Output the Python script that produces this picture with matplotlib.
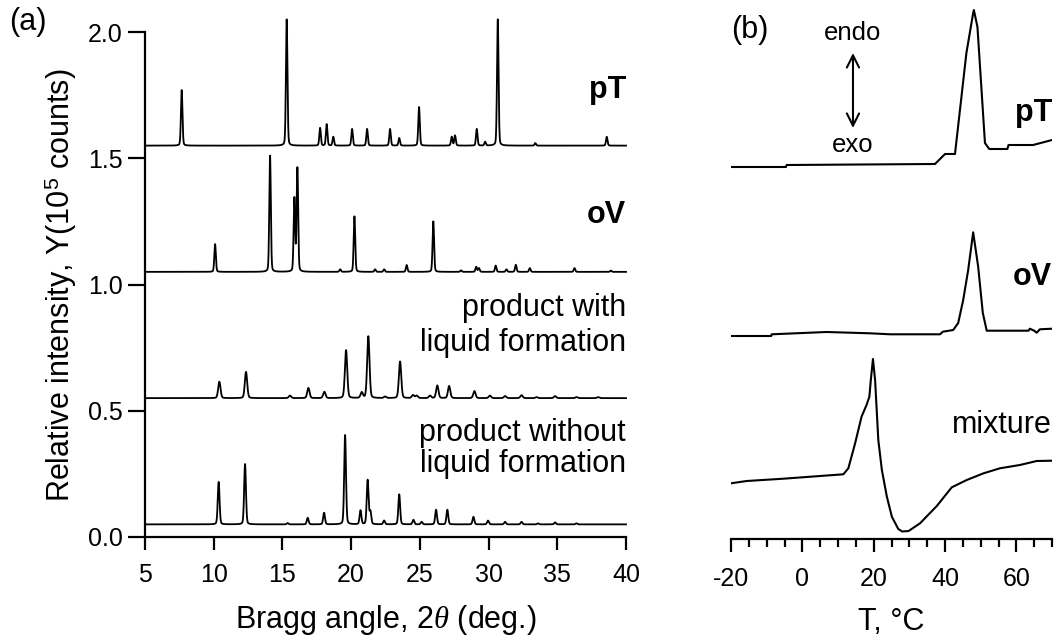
import matplotlib.pyplot as plt
import numpy as np

plt.rcParams['font.family'] = ['Liberation Sans', 'DejaVu Sans']
plt.rcParams['mathtext.fontset'] = 'custom'
plt.rcParams['mathtext.rm'] = 'Liberation Sans'
plt.rcParams['mathtext.it'] = 'Liberation Serif:italic'
plt.rcParams['axes.unicode_minus'] = False

# ---- (a) powder XRD: peak positions (2theta, deg.) and heights (1e5 counts)
pT_pos = [7.67, 15.31, 17.74, 18.22, 18.70, 20.07, 21.16, 22.83, 23.50, 24.94,
          27.32, 27.56, 29.14, 29.75, 30.67, 33.40, 38.60]
pT_int = [0.22, 0.50, 0.07, 0.085, 0.035, 0.066, 0.066, 0.066, 0.03, 0.153,
          0.035, 0.04, 0.066, 0.015, 0.50, 0.01, 0.035]

oV_pos = [10.10, 14.10, 15.87, 16.09, 19.20, 20.24, 21.74, 22.40, 24.04, 25.98,
          28.00, 29.10, 29.30, 30.52, 31.30, 31.98, 33.00, 36.25, 38.90]
oV_int = [0.11, 0.46, 0.29, 0.41, 0.01, 0.22, 0.01, 0.01, 0.027, 0.20,
          0.006, 0.02, 0.015, 0.025, 0.01, 0.028, 0.015, 0.015, 0.005]

liq_pos = [10.41, 12.35, 15.55, 16.89, 18.05, 19.63, 20.77, 21.25, 22.47, 23.56,
           24.50, 24.77, 25.74, 26.27, 27.13, 28.97, 30.10, 31.20, 32.40, 33.50,
           34.84, 36.40, 37.97]
liq_int = [0.065, 0.104, 0.01, 0.04, 0.025, 0.19, 0.022, 0.245, 0.006, 0.145,
           0.012, 0.01, 0.01, 0.05, 0.048, 0.028, 0.01, 0.008, 0.012, 0.004,
           0.008, 0.004, 0.004]

dry_pos = [10.36, 12.28, 15.38, 16.84, 18.03, 19.56, 20.68, 21.20, 21.40, 22.40,
           23.50, 24.53, 25.13, 26.18, 27.00, 28.90, 29.96, 31.20, 32.40, 33.60,
           34.84, 36.40]
dry_int = [0.168, 0.239, 0.005, 0.026, 0.046, 0.354, 0.055, 0.175, 0.05, 0.015,
           0.119, 0.018, 0.01, 0.058, 0.058, 0.03, 0.015, 0.01, 0.01, 0.004,
           0.008, 0.004]

xrd_offsets = [1.55, 1.05, 0.55, 0.05]
xrd_widths = [0.055, 0.055, 0.085, 0.065]

# ---- (b) DSC traces: temperature (deg C) and heat flow (a.u., offset)
pT_T = [-20, -4.6, -4.4, 37.2, 40.0, 42.8, 46.0, 47.9, 48.1, 49.1, 51.2, 52.4,
        57.5, 57.8, 64.7, 70]
pT_q = [3.72, 3.72, 3.74, 3.75, 3.85, 3.85, 4.86, 5.26, 5.29, 5.12, 3.96, 3.90,
        3.90, 3.94, 3.94, 3.99]

oV_T = [-20, -8.7, -8.6, 6.8, 19.0, 24.6, 38.6, 39.4, 42.3, 43.7, 45.1, 46.5,
        47.9, 49.3, 50.6, 51.7, 63.4, 63.8, 65.0, 65.7, 66.6, 70]
oV_q = [2.03, 2.03, 2.047, 2.07, 2.057, 2.047, 2.047, 2.073, 2.09, 2.16, 2.39,
        2.69, 3.067, 2.723, 2.26, 2.083, 2.083, 2.103, 2.083, 2.063, 2.097, 2.103]

mix_T = [-20, -15.6, -5.3, 11.5, 12.9, 14.8, 16.6, 18.0, 18.8, 19.2, 19.8, 20.4,
         21.3, 22.3, 23.7, 25.1, 26.9, 28.0, 29.8, 33.0, 37.7, 41.9, 46.1, 50.8,
         55.4, 61.0, 65.7, 70]
mix_q = [0.557, 0.58, 0.603, 0.647, 0.707, 0.957, 1.223, 1.34, 1.423, 1.59, 1.80,
         1.59, 0.99, 0.69, 0.423, 0.223, 0.10, 0.075, 0.08, 0.157, 0.33, 0.517,
         0.59, 0.657, 0.707, 0.74, 0.78, 0.783]


def pattern(x, pos, inten, w):
    y = np.zeros_like(x)
    for p, h in zip(pos, inten):
        y += h * (0.8 * np.exp(-0.5 * ((x - p) / w) ** 2)
                  + 0.2 / (1 + ((x - p) / (1.2 * w)) ** 2))
    return y


fig = plt.figure(figsize=(10.55, 6.37), dpi=100)
axa = fig.add_axes([145 / 1055, 1 - 537 / 637, 481 / 1055, 505 / 637])
axb = fig.add_axes([731 / 1055, 1 - 539 / 637, 321 / 1055, 539 / 637])

# (a)
two_theta = np.linspace(5, 40, 3501)
peaks = [(pT_pos, pT_int), (oV_pos, oV_int), (liq_pos, liq_int), (dry_pos, dry_int)]
for (pos, inten), off, w in zip(peaks, xrd_offsets, xrd_widths):
    axa.plot(two_theta, off + pattern(two_theta, pos, inten, w),
             color='black', lw=1.3, clip_on=False)

axa.set_xlim(5, 40)
axa.set_ylim(0, 2.0)
axa.set_xticks(np.arange(5, 41, 5))
axa.set_yticks([0.0, 0.5, 1.0, 1.5, 2.0])
axa.set_yticklabels(['0.0', '0.5', '1.0', '1.5', '2.0'])
for s in ['top', 'right']:
    axa.spines[s].set_visible(False)
for s in ['left', 'bottom']:
    axa.spines[s].set_linewidth(1.6)
axa.tick_params(axis='x', direction='out', length=9.5, width=1.6, pad=9, labelsize=18)
axa.tick_params(axis='y', direction='out', length=12, width=1.6, pad=4, labelsize=18)
axa.set_xlabel(r'Bragg angle, 2$\it{\theta}$ (deg.)', fontsize=22, labelpad=12)

txt = dict(ha='right', va='center', fontsize=22)
axa.text(40, 1.77, 'pT', fontweight='bold', **txt)
axa.text(40, 1.275, 'oV', fontweight='bold', **txt)
axa.text(40, 0.905, 'product with', **txt)
axa.text(40, 0.768, 'liquid formation', **txt)
axa.text(40, 0.41, 'product without', **txt)
axa.text(40, 0.29, 'liquid formation', **txt)

fig.text(61 / 1055, 1 - 285 / 637, r'Relative intensity, Y(10$^5$ counts)',
         rotation=90, ha='center', va='center', fontsize=22)
fig.text(28 / 1055, 1 - 22 / 637, '(a)', ha='center', va='center', fontsize=22)

# (b)
axb.plot(pT_T, pT_q, color='black', lw=1.5)
axb.plot(oV_T, oV_q, color='black', lw=1.5)
axb.plot(mix_T, mix_q, color='black', lw=1.5)
axb.set_xlim(-20, 70)
axb.set_ylim(0, 5.39)
axb.set_xticks([-20, 0, 20, 40, 60])
axb.set_xticks(np.arange(-20, 71, 5), minor=True)
axb.set_yticks([])
for s in ['top', 'right', 'left']:
    axb.spines[s].set_visible(False)
axb.spines['bottom'].set_linewidth(1.6)
axb.tick_params(axis='x', which='major', direction='out', length=9, width=1.6,
                pad=11, labelsize=18)
axb.tick_params(axis='x', which='minor', direction='out', length=6, width=1.6)
axb.set_xlabel('T, °C', fontsize=22, labelpad=12)

axb.text(70, 4.26, 'pT', fontweight='bold', **txt)
axb.text(70, 2.62, 'oV', fontweight='bold', **txt)
axb.text(70, 1.14, 'mixture', **txt)
axb.text(14.2, 5.06, 'endo', ha='center', va='center', fontsize=18.5)
axb.text(14.2, 3.94, 'exo', ha='center', va='center', fontsize=18.5)
axb.annotate('', xy=(14.2, 4.11), xytext=(14.2, 4.86),
             arrowprops=dict(arrowstyle='<->', color='black', lw=1.5,
                             mutation_scale=22, shrinkA=0, shrinkB=0))
fig.text(750 / 1055, 1 - 30 / 637, '(b)', ha='center', va='center', fontsize=22)

fig.savefig('out.png', dpi=100)
